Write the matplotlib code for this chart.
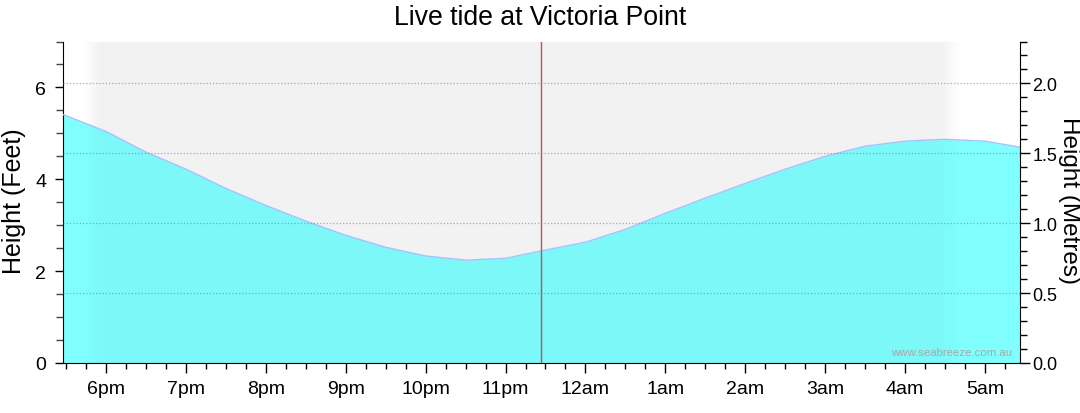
import numpy as np
import matplotlib
matplotlib.use("Agg")
import matplotlib.pyplot as plt
from matplotlib.ticker import MultipleLocator, FixedLocator, FormatStrFormatter

plt.rcParams['font.family'] = ['Liberation Sans', 'DejaVu Sans']

# ============================================================
# DATA  (hours after midnight of day 1, height in feet)
# ============================================================

hours = [17.46, 18.0, 18.5, 19.0, 19.5, 20.0, 20.5, 21.0, 21.5, 22.0,
         22.5, 23.0, 23.5, 24.0, 24.5, 25.0, 25.5, 26.0, 26.5, 27.0,
         27.5, 28.0, 28.5, 29.0, 29.44]

height_ft = [5.41, 5.04, 4.59, 4.22, 3.80, 3.43, 3.09, 2.78, 2.52, 2.33,
             2.24, 2.28, 2.46, 2.63, 2.91, 3.26, 3.59, 3.91, 4.22, 4.50,
             4.72, 4.83, 4.87, 4.83, 4.70]

tick_hours = [18, 19, 20, 21, 22, 23, 24, 25, 26, 27, 28, 29]
tick_labels = ["6pm", "7pm", "8pm", "9pm", "10pm", "11pm",
               "12am", "1am", "2am", "3am", "4am", "5am"]

now_hour = 23.44

# night shading (full dark between the inner pair, fading outside)
night_fade = [17.71, 17.925, 28.46, 28.71]

X_MIN, X_MAX = 17.46, 29.44

# ============================================================
# FIGURE
# ============================================================

fig = plt.figure(figsize=(10.8, 4.14), dpi=100)
ax = fig.add_axes([63 / 1080, 1 - 364 / 414, 957 / 1080, 321.5 / 414])
ax2 = ax.twinx()

# night shading: behind the fill and a faint layer above it
xs = np.linspace(X_MIN, X_MAX, 2000)
shade = np.interp(xs, night_fade, [0, 1, 1, 0], left=0, right=0)


def night_layer(strength, z):
    rgba = np.zeros((1, len(xs), 4))
    rgba[..., 3] = shade * strength
    ax.imshow(rgba, extent=[X_MIN, X_MAX, 0, 7], aspect="auto",
              interpolation="nearest", zorder=z)


night_layer(0.027, 0.5)

# tide fill
ax.fill_between(hours, 0, height_ft, color="#80ffff", lw=0, zorder=1)
night_layer(0.03, 2)
ax.plot(hours, height_ft, color="#a4c2ff", lw=1.0, zorder=3)

# current time marker
ax.axvline(now_hour, color="#b05858", lw=1.0, zorder=4)

# axes limits
ax.set_xlim(X_MIN, X_MAX)
ax.set_ylim(0, 7)
ax2.set_ylim(0, 2.3)

# grid on metres axis
for m in [0.5, 1.0, 1.5, 2.0]:
    ax2.axhline(m, color="#888888", alpha=0.7, lw=0.9,
                linestyle=(0, (1, 1.6)), zorder=5)

# ticks
ax.xaxis.set_major_locator(FixedLocator(tick_hours))
ax.set_xticklabels(tick_labels)
ax.xaxis.set_minor_locator(MultipleLocator(0.25))
ax.yaxis.set_major_locator(MultipleLocator(2))
ax.yaxis.set_minor_locator(MultipleLocator(0.5))
ax2.yaxis.set_major_locator(MultipleLocator(0.5))
ax2.yaxis.set_minor_locator(MultipleLocator(0.1))
ax2.yaxis.set_major_formatter(FormatStrFormatter("%.1f"))

ax.tick_params(axis="x", which="major", length=7, width=1, labelsize=14, pad=5)
ax.tick_params(axis="x", which="minor", length=4, width=1)
ax.tick_params(axis="y", which="major", length=6, width=1, labelsize=14, pad=6)
ax.tick_params(axis="y", which="minor", length=5, width=1, color="#444444")
ax2.tick_params(axis="y", which="major", length=7, width=1, labelsize=13, pad=2)
ax2.tick_params(axis="y", which="minor", length=5, width=1)

for a in (ax, ax2):
    a.spines["top"].set_visible(False)
ax.spines["right"].set_visible(False)
ax2.spines["left"].set_visible(False)
ax2.spines["bottom"].set_visible(False)

# labels
mid_y = 1 - 201 / 414
fig.text(14 / 1080, mid_y, "Height (Feet)", rotation=90,
         ha="center", va="center", fontsize=18)
fig.text(1069 / 1080, mid_y, "Height (Metres)", rotation=270,
         ha="center", va="center", fontsize=17.5)
fig.text(0.5, 1 - 18 / 414, "Live tide at Victoria Point",
         ha="center", va="center", fontsize=19.2)

ax.text((1012 - 63) / 957, 0.035, "www.seabreeze.com.au", transform=ax.transAxes,
        ha="right", va="center", fontsize=8.2, color="#a8a8a8", zorder=6)

fig.savefig("out.png", dpi=100)
